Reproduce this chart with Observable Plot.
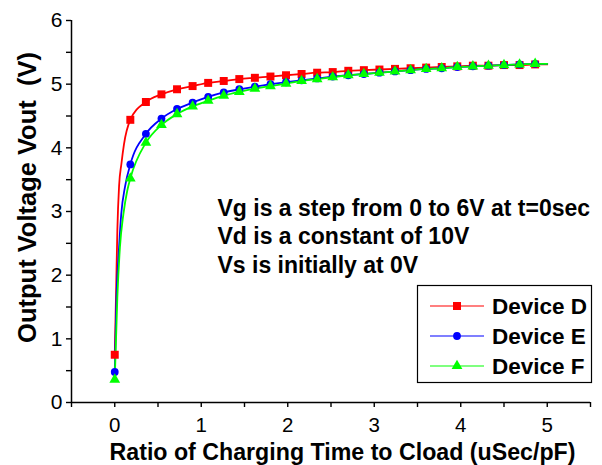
<!DOCTYPE html>
<html>
<head>
<meta charset="utf-8">
<script src="https://cdn.jsdelivr.net/npm/d3@7"></script>
<script src="https://cdn.jsdelivr.net/npm/@observablehq/plot@0.6"></script>
<style>
  html, body { margin: 0; padding: 0; background: #fff; }
  svg { display: block; }
</style>
</head>
<body>
<div id="chart"></div>
<script>
// ---- data ----
const xValues = [0, 0.18, 0.36, 0.54, 0.72, 0.90, 1.08, 1.26, 1.44, 1.62, 1.80, 1.98, 2.16, 2.34,
                 2.52, 2.70, 2.88, 3.06, 3.24, 3.42, 3.60, 3.78, 3.96, 4.14, 4.32, 4.50, 4.68, 4.86];
const deviceD = [0.75, 4.44, 4.72, 4.84, 4.92, 4.97, 5.02, 5.05, 5.08, 5.10, 5.12, 5.14, 5.16, 5.18,
                 5.19, 5.21, 5.22, 5.23, 5.24, 5.25, 5.26, 5.27, 5.28, 5.29, 5.29, 5.30, 5.30, 5.31];
const deviceE = [0.48, 3.74, 4.22, 4.46, 4.61, 4.71, 4.80, 4.87, 4.92, 4.96, 5.00, 5.03, 5.06, 5.09,
                 5.12, 5.14, 5.16, 5.18, 5.20, 5.22, 5.24, 5.25, 5.27, 5.28, 5.29, 5.30, 5.31, 5.32];
const deviceF = [0.36, 3.52, 4.08, 4.36, 4.53, 4.65, 4.74, 4.82, 4.88, 4.93, 4.97, 5.01, 5.05, 5.08,
                 5.11, 5.14, 5.16, 5.18, 5.20, 5.22, 5.24, 5.25, 5.27, 5.28, 5.29, 5.30, 5.31, 5.32];
// extra points of the fitted lines (steep start and end of line)
const lineExtraX_D = [0.015, 0.03, 0.05, 0.077, 0.107, 5.0];
const lineExtraY_D = [1.70, 2.70, 3.40, 3.75, 4.06, 5.31];
const lineExtraX_E = [0.02, 0.05, 0.075, 0.12, 5.0];
const lineExtraY_E = [1.65, 2.44, 2.96, 3.40, 5.32];
const lineExtraX_F = [0.03, 0.06, 0.10, 0.145, 5.0];
const lineExtraY_F = [1.65, 2.44, 2.96, 3.33, 5.32];

const seriesNames = ["Device D", "Device E", "Device F"];
const seriesColors = ["#ff0000", "#0000ff", "#00ff00"];
const seriesSymbols = ["square", "circle", "triangle"];
const xTicks = [-0.5, 0, 0.5, 1, 1.5, 2, 2.5, 3, 3.5, 4, 4.5, 5, 5.5];
const yTicks = [0, 0.5, 1, 1.5, 2, 2.5, 3, 3.5, 4, 4.5, 5, 5.5, 6];
const noteLines = ["Vg is a step from 0 to 6V at t=0sec", "Vd is a constant of 10V", "Vs is initially at 0V"];
const xTitle = "Ratio of Charging Time to Cload (uSec/pF)";
const yTitle = "Output Voltage Vout  (V)";

// ---- build tables ----
const ys = [deviceD, deviceE, deviceF];
const extrasX = [lineExtraX_D, lineExtraX_E, lineExtraX_F];
const extrasY = [lineExtraY_D, lineExtraY_E, lineExtraY_F];
const markers = [];
const lines = [];
seriesNames.forEach((name, s) => {
  xValues.forEach((x, i) => markers.push({series: name, x, y: ys[s][i]}));
  const pts = xValues.map((x, i) => ({series: name, x, y: ys[s][i]}))
    .concat(extrasX[s].map((x, i) => ({series: name, x, y: extrasY[s][i]})));
  pts.sort((a, b) => a.x - b.x);
  lines.push(...pts);
});

const font = "'Liberation Sans', Arial, Helvetica, sans-serif";
const symR = {square: 4.5, circle: 3.9, triangle: 4.0};

const marks = [
  Plot.axisX({ticks: xTicks, tickSize: 5, tickPadding: 10, fontSize: 20.5,
              tickFormat: d => Number.isInteger(d) ? String(d) : "", label: null, stroke: "#000", strokeWidth: 1.4}),
  Plot.axisY({ticks: yTicks, tickSize: 5, tickPadding: 4, fontSize: 21,
              tickFormat: d => Number.isInteger(d) ? String(d) : "", label: null, stroke: "#000", strokeWidth: 1.4}),
  Plot.ruleY([0], {x1: -0.5, x2: 5.5, stroke: "#000", strokeWidth: 1.5}),
  Plot.ruleX([-0.5], {y1: 0, y2: 6, stroke: "#000", strokeWidth: 1.5})
];
seriesNames.forEach((name, s) => {
  marks.push(Plot.line(lines.filter(d => d.series === name),
    {x: "x", y: "y", stroke: seriesColors[s], strokeWidth: 1.8, curve: "monotone-x"}));
});
seriesNames.forEach((name, s) => {
  marks.push(Plot.dot(markers.filter(d => d.series === name),
    {x: "x", y: "y", symbol: seriesSymbols[s], fill: seriesColors[s], stroke: "none", r: symR[seriesSymbols[s]]}));
});
marks.push(
  Plot.text([noteLines.join("\n")], {frameAnchor: "top-left", dx: 146, dy: 175, text: d => d,
    textAnchor: "start", lineAnchor: "top", lineHeight: 1.24, fontSize: 23, fontWeight: "bold", fill: "#000"}),
  Plot.text([xTitle], {frameAnchor: "bottom", dx: 11.5, dy: 50, text: d => d, textAnchor: "middle",
    lineAnchor: "middle", fontSize: 23.2, fontWeight: "bold", fill: "#000"}),
  Plot.text([yTitle], {frameAnchor: "left", dx: -44, dy: -14, rotate: -90, text: d => d, textAnchor: "middle",
    lineAnchor: "middle", fontSize: 25.5, fontWeight: "bold", fill: "#000"})
);

const chart = Plot.plot({
  width: 602,
  height: 465,
  marginLeft: 71,
  marginRight: 12,
  marginTop: 20,
  marginBottom: 63,
  style: {fontFamily: font, background: "#fff", color: "#000", overflow: "visible"},
  x: {domain: [-0.5, 5.5]},
  y: {domain: [0, 6]},
  marks
});
document.getElementById("chart").appendChild(chart);

// ---- legend (drawn in the same svg) ----
const svg = d3.select(chart);
const lg = svg.append("g").attr("font-family", font);
const box = {x: 417, y: 285, w: 174, h: 97};
lg.append("rect").attr("x", box.x + 0.5).attr("y", box.y + 0.5).attr("width", box.w).attr("height", box.h)
  .attr("fill", "#fff").attr("stroke", "#000").attr("stroke-width", 1.2);
const symMap = {square: d3.symbolSquare, circle: d3.symbolCircle, triangle: d3.symbolTriangle};
seriesNames.forEach((name, s) => {
  const cy = 306 + s * 30;
  lg.append("line").attr("x1", 430).attr("x2", 484).attr("y1", cy).attr("y2", cy)
    .attr("stroke", seriesColors[s]).attr("stroke-width", 1.2);
  const r = symR[seriesSymbols[s]];
  lg.append("path").attr("transform", `translate(457,${cy})`)
    .attr("d", d3.symbol(symMap[seriesSymbols[s]], Math.PI * r * r)())
    .attr("fill", seriesColors[s]);
  lg.append("text").attr("x", 492).attr("y", cy).attr("dy", "0.36em").attr("text-anchor", "start")
    .attr("font-size", 22.5).attr("font-weight", "bold").attr("fill", "#000").text(name);
});
</script>
</body>
</html>
